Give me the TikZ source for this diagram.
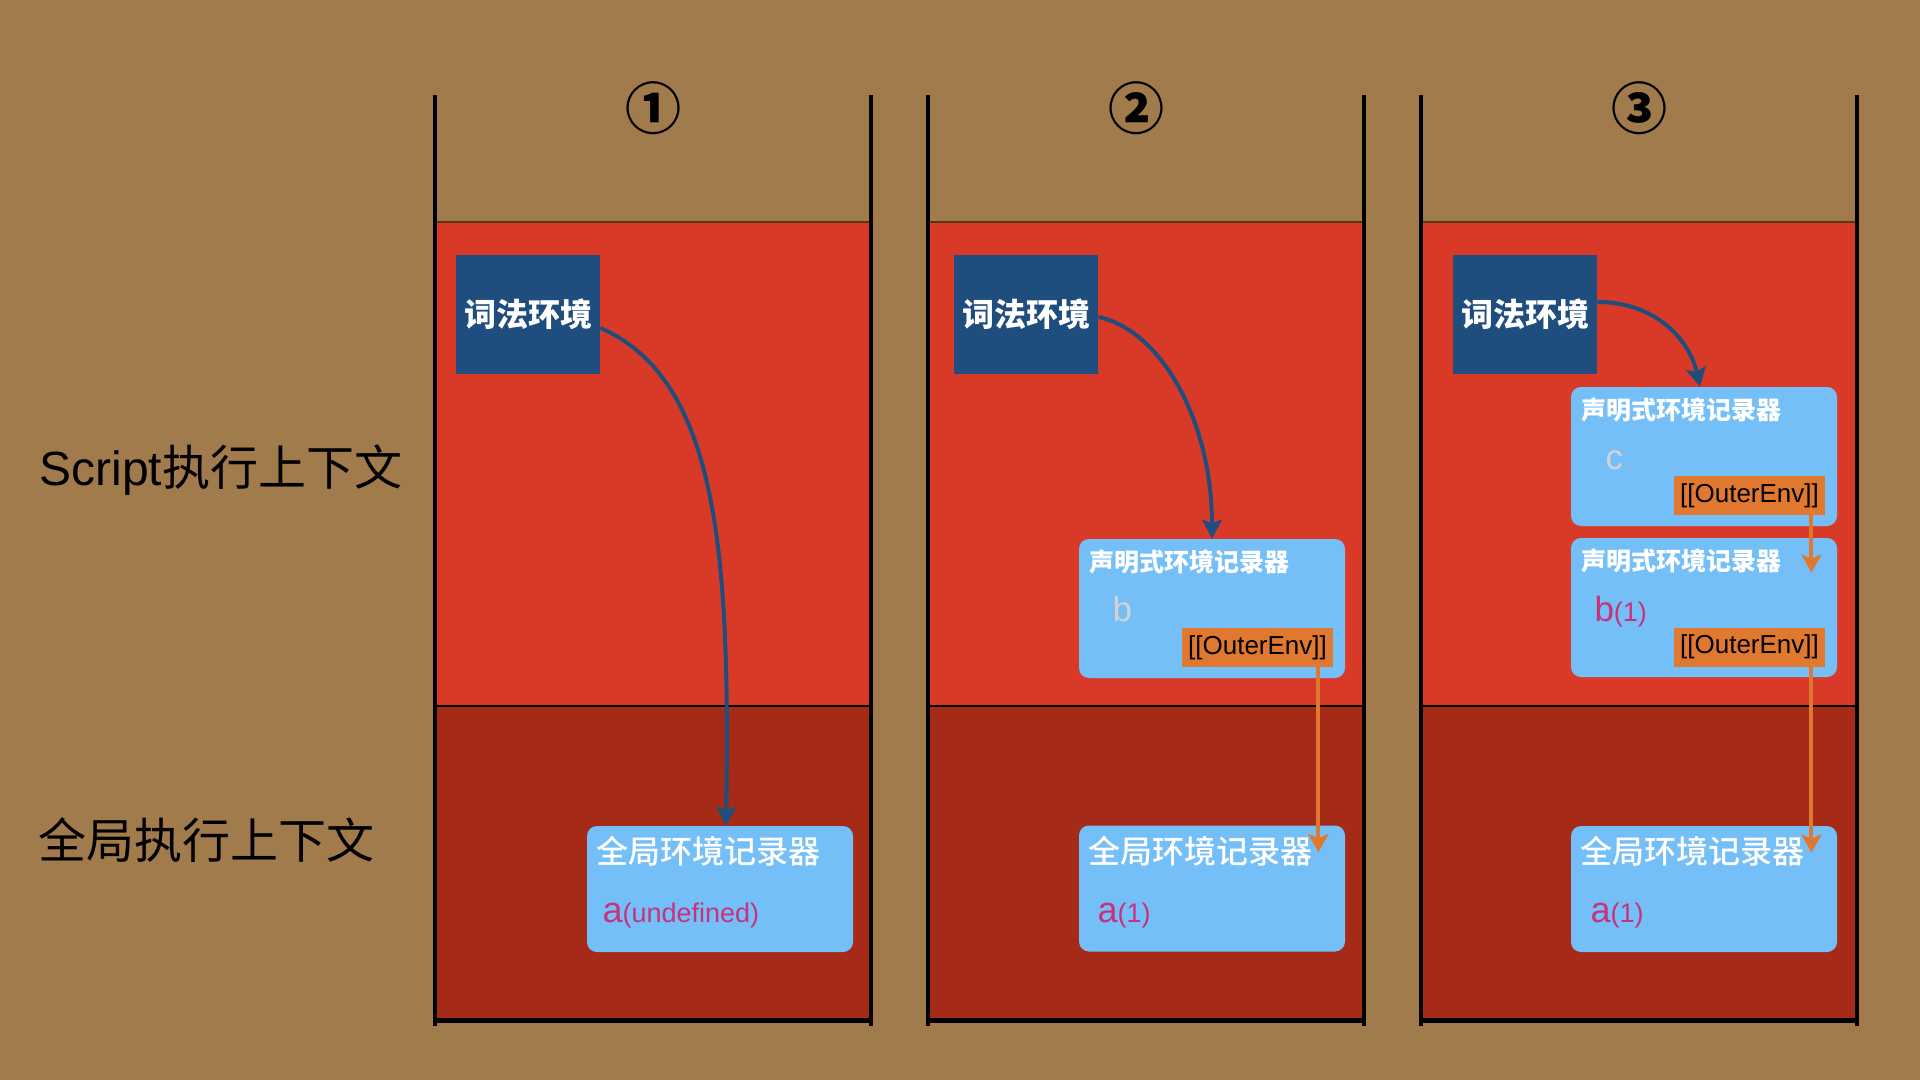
\documentclass[tikz,border=0pt]{standalone}
\usepackage{fontspec}
\setmainfont{Liberation Sans}
\newfontfamily\cjk{Noto Sans CJK SC}
\IfFontExistsTF{Noto Sans CJK SC Medium}
  {\newfontfamily\cjkmed{Noto Sans CJK SC Medium}}
  {\newfontfamily\cjkmed{Noto Sans CJK SC}}
\usetikzlibrary{calc,arrows.meta}
\definecolor{bgbrown}{HTML}{A27B4C}
\definecolor{upred}{HTML}{D93A27}
\definecolor{lowred}{HTML}{A52A18}
\definecolor{lexblue}{HTML}{1F4E7E}
\definecolor{recblue}{HTML}{74BFF7}
\definecolor{outorange}{HTML}{E07830}
\definecolor{valpink}{HTML}{C8327C}
\definecolor{valgray}{HTML}{D2D2D2}
\definecolor{edgebrown}{HTML}{5B3315}
\tikzset{
  lexbox/.style={fill=lexblue, text=white, minimum width=72pt, minimum height=59.5pt, inner sep=0pt,
    font=\cjk\bfseries\fontsize{16pt}{16pt}\selectfont},
  recbox/.style={fill=recblue, rounded corners=5pt, minimum width=133pt, inner sep=0pt},
  globbox/.style={recbox, minimum height=63pt},
  declbox/.style={recbox, minimum height=69.5pt},
  outbox/.style={fill=outorange, text=black, minimum width=75.5pt, minimum height=19.5pt, inner sep=0pt,
    font=\fontsize{13pt}{13pt}\selectfont},
  globtitle/.style={anchor=west, inner sep=0pt, text=white, font=\cjkmed\fontsize{16pt}{16pt}\selectfont},
  decltitle/.style={anchor=west, inner sep=0pt, text=white, font=\cjk\bfseries\fontsize{12.5pt}{12.5pt}\selectfont},
  pinkval/.style={anchor=base west, inner sep=0pt, text=valpink},
  grayval/.style={anchor=base west, inner sep=0pt, text=valgray, font=\fontsize{17.5pt}{17.5pt}\selectfont},
  lexarrow/.style={draw=lexblue, line width=2pt, -{Stealth[length=9.5pt,width=10pt,inset=2pt]}},
  outarrow/.style={draw=outorange, line width=2pt, -{Stealth[length=9pt,width=10pt,inset=2pt]}},
  sidelabel/.style={anchor=west, inner sep=0pt, text=black, font=\fontsize{24pt}{24pt}\selectfont},
  numlabel/.style={inner sep=0pt, text=black, font=\cjk\bfseries\fontsize{28pt}{28pt}\selectfont},
  wall/.style={line width=2pt, black}
}
\newcommand{\bigv}[2]{{\fontsize{18pt}{18pt}\selectfont #1}{\fontsize{13.5pt}{13.5pt}\selectfont #2}}
\newcommand{\outertext}{\raisebox{-1pt}{[[OuterEnv]]}}
\begin{document}
\begin{tikzpicture}[x=0.5pt,y=-0.5pt]
\fill[bgbrown] (0,0) rectangle (1920,1080);
\path[use as bounding box] (0,0) rectangle (1920,1080);

% panels background
\foreach \xl/\xr in {435/871, 928/1364, 1421/1857}{
  \fill[upred] (\xl,222) rectangle (\xr,706);
  \fill[lowred] (\xl,706) rectangle (\xr,1018);
  \draw[edgebrown, line width=0.6pt] (\xl,222) -- (\xr,222);
  \draw[black, line width=0.6pt] (\xl,706) -- (\xr,706);
  \draw[wall] (\xl,95) -- (\xl,1026);
  \draw[wall] (\xr,95) -- (\xr,1026);
  \draw[black, line width=2.5pt] (\xl,1020.5) -- (\xr,1020.5);
}

% circled numbers
\node[numlabel] (n1) at (653,108) {①};
\node[numlabel] (n2) at (1136,108) {②};
\node[numlabel] (n3) at (1639,108) {③};

% side labels
\node[sidelabel] (lscript) at (39,470) {Script{\cjk 执行上下文}};
\node[sidelabel] (lglobal) at (38,840) {\cjk 全局执行上下文};

% ---------- panel 1
\node[lexbox] (lex1) at (528,314.5) {词法环境};
\node[globbox] (glob1) at (720,889) {};
\node[globtitle] (glob1t) at ($(glob1.north west)+(9,26)$) {全局环境记录器};
\node[pinkval] (glob1v) at ($(glob1.north west)+(15.5,97)$) {\bigv{a}{(undefined)}};
\draw[lexarrow] ($(lex1.east)+(0,13.5)$) .. controls +(120,52) and +(4,-264) .. ($(glob1.north)+(6,0)$);

% ---------- panel 2
\node[lexbox] (lex2) at (1026,314.5) {词法环境};
\node[declbox] (decl2) at (1212,608.5) {};
\node[decltitle] (decl2t) at ($(decl2.north west)+(10,23)$) {声明式环境记录器};
\node[grayval] (decl2v) at ($(decl2.north west)+(33.5,83)$) {b};
\node[outbox] (out2) at (1257.5,647.5) {\outertext};
\node[globbox] (glob2) at (1212,888.5) {};
\node[globtitle] (glob2t) at ($(glob2.north west)+(9,26)$) {全局环境记录器};
\node[pinkval] (glob2v) at ($(glob2.north west)+(18.5,97)$) {\bigv{a}{(1)}};
\draw[lexarrow] ($(lex2.east)+(0,2.5)$) .. controls +(62,13) and +(0,-119) .. (decl2.north);
\draw[outarrow] ($(out2.south east)+(-15,0)$) -- ($(glob2.north east)+(-27,27)$);

% ---------- panel 3
\node[lexbox] (lex3) at (1525,314.5) {词法环境};
\node[declbox] (decl3a) at (1704,456.5) {};
\node[decltitle] (decl3at) at ($(decl3a.north west)+(10,23)$) {声明式环境记录器};
\node[grayval] (decl3av) at ($(decl3a.north west)+(34.5,83)$) {c};
\node[outbox] (out3a) at (1749.5,495.5) {\outertext};
\node[declbox] (decl3b) at (1704,607.5) {};
\node[decltitle] (decl3bt) at ($(decl3b.north west)+(10,23)$) {声明式环境记录器};
\node[pinkval] (decl3bv) at ($(decl3b.north west)+(23.5,84)$) {{\fontsize{17.5pt}{17.5pt}\selectfont b}{\fontsize{13.5pt}{13.5pt}\selectfont (1)}};
\node[outbox] (out3b) at (1749.5,647) {\outertext};
\node[globbox] (glob3) at (1704,889) {};
\node[globtitle] (glob3t) at ($(glob3.north west)+(9,26)$) {全局环境记录器};
\node[pinkval] (glob3v) at ($(glob3.north west)+(19.5,97)$) {\bigv{a}{(1)}};
\draw[lexarrow] ($(lex3.east)+(0,-12.5)$) .. controls +(60,0) and +(-10,-45) .. ($(decl3a.north)+(-4,0)$);
\draw[outarrow] ($(out3a.south east)+(-14,0)$) -- ($(decl3b.north east)+(-26,35)$);
\draw[outarrow] ($(out3b.south east)+(-14,0)$) -- ($(glob3.north east)+(-26,27)$);
\end{tikzpicture}
\end{document}
